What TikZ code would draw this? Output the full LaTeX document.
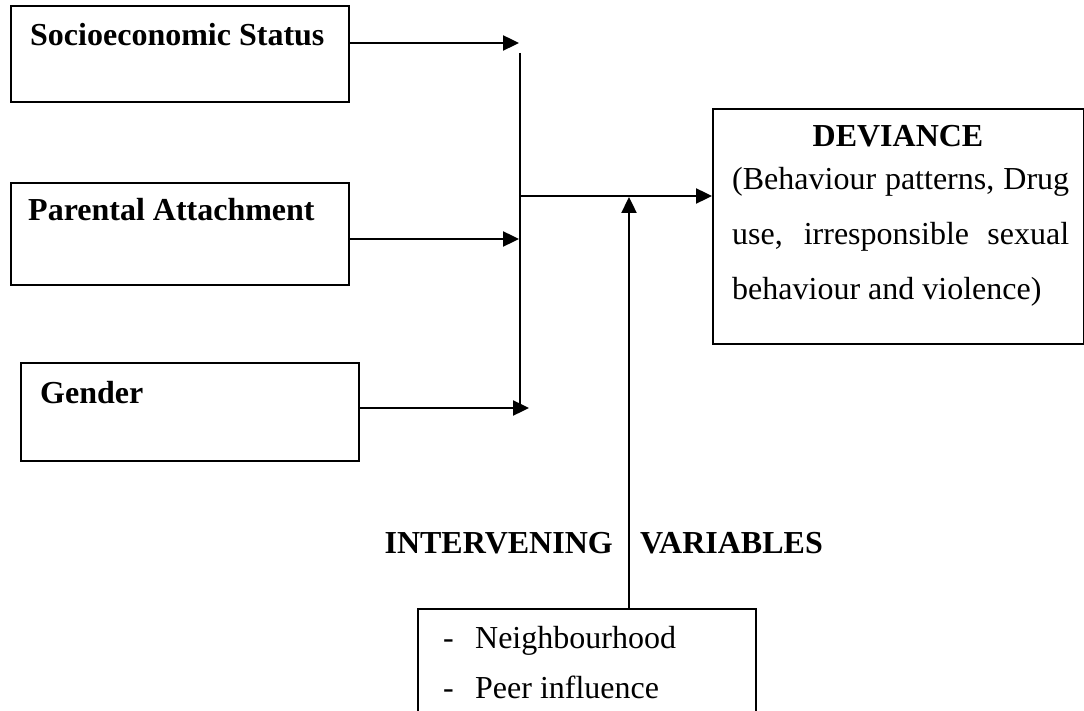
\documentclass[tikz,border=0pt]{standalone}
\usepackage{fontspec}
\setmainfont{Liberation Serif}
\usetikzlibrary{arrows.meta}
\tikzset{box/.style={draw, line width=2pt, anchor=north west, inner sep=0pt},
         head/.style={anchor=base west, inner sep=0pt, font=\fontsize{32}{38}\selectfont\bfseries},
         plain/.style={anchor=base west, inner sep=0pt, font=\fontsize{32}{55}\selectfont},
         flow/.style={line width=2.4pt, -{Triangle[length=16pt,width=15pt]}},
        }

\begin{document}
\begin{tikzpicture}[x=1pt,y=-1pt]
        \useasboundingbox (0,0) rectangle (1084,711);

        % left boxes
        \node[box, minimum width=338pt, minimum height=96pt](ses)at(10,5){};
        \node[head](sestxt)at(30,46){Socioeconomic Status};
        \node[box, minimum width=338pt, minimum height=102pt](par)at(10,182){};
        \node[head](partxt)at(28,221){Parental Attachment};
        \node[box, minimum width=338pt, minimum height=98pt](gen)at(20,362){};
        \node[head](gentxt)at(40,403){Gender};

        % outcome
        \node[box, minimum width=371pt, minimum height=235pt](dev)at(712,108){};
        \node[head, anchor=base](devtxt)at(898,147){DEVIANCE};
        \node[plain, text width=337pt, align=justify](devbody)at(732,190)
             {(Behaviour patterns, Drug\linebreak use, irresponsible sexual\linebreak behaviour and violence)};

        % intervening variables
        \node[head, anchor=base east](intxt)at(613,553){INTERVENING};
        \node[head](vartxt)at(640,553){VARIABLES};
        \node[box, minimum width=338pt, minimum height=120pt](inter)at(417,608){};
        \node[plain](nb)at(443,648){\makebox[32pt][l]{-}Neighbourhood};
        \node[plain](peer)at(443,698){\makebox[32pt][l]{-}Peer influence};

        % bus and joins
        \coordinate(j1)at(519,43);
        \coordinate(j2)at(519,239);
        \coordinate(j3)at(529,408);
        \coordinate(top)at(520,53);
        \coordinate(bot)at(520,410);
        \coordinate(mid)at(520,196);
        \coordinate(up)at(629,197);

        \draw[flow](ses.east|-j1)--(j1);
        \draw[flow](par.east|-j2)--(j2);
        \draw[flow](gen.east|-j3)--(j3);
        \draw[line width=2.4pt](top)--(bot);
        \draw[flow](mid)--(dev.west|-mid);
        \draw[flow](inter.north-|up)--(up);
    \end{tikzpicture}
\end{document}
